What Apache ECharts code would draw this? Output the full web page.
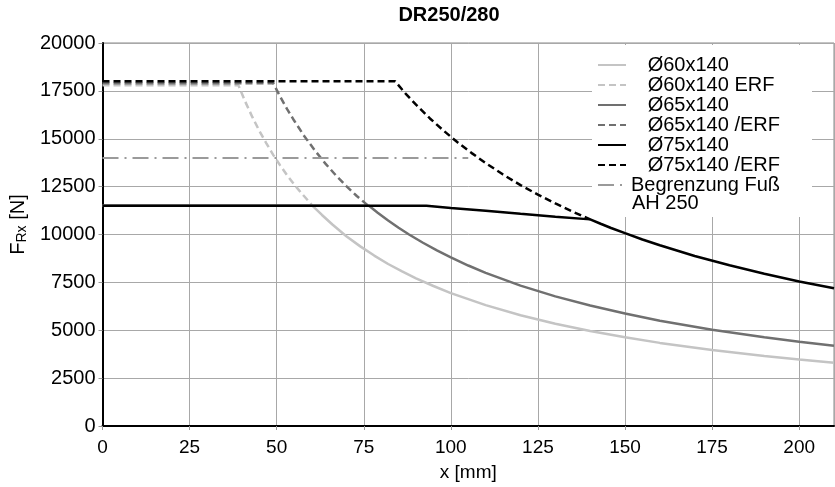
<!DOCTYPE html>
<html>
<head>
<meta charset="utf-8">
<script src="https://cdn.jsdelivr.net/npm/echarts@6/dist/echarts.min.js"></script>
<style>
  html, body { margin: 0; padding: 0; background: #fff; }
  #main { width: 835px; height: 487px; }
</style>
</head>
<body>
<div id="main"></div>
<script>
// values
const x60 = [0, 60.3, 63, 66, 70, 74, 78, 82, 86, 90, 95, 100, 110, 120, 130, 140, 150, 160, 175, 190, 200, 210];
const y60 = [11500, 11500, 11020, 10520, 9910, 9380, 8900, 8460, 8070, 7710, 7310, 6940, 6310, 5780, 5340, 4960, 4630, 4340, 3970, 3650, 3470, 3300];
const x60erf = [0, 39, 41, 43, 45, 47, 49, 51, 53, 55, 57, 60];
const y60erf = [17800, 17800, 16930, 16140, 15420, 14770, 14160, 13610, 13090, 12620, 12180, 11570];

const x65 = [0, 76.5, 79, 82, 85, 88, 92, 96, 100, 105, 110, 120, 130, 140, 150, 160, 175, 190, 200, 210];
const y65 = [11500, 11500, 11140, 10730, 10350, 10000, 9570, 9170, 8800, 8380, 8000, 7330, 6770, 6290, 5870, 5500, 5030, 4630, 4400, 4190];
const x65erf = [0, 49, 51, 53, 55, 58, 61, 64, 67, 70, 73, 76.5];
const y65erf = [17900, 17900, 17200, 16550, 15950, 15120, 14380, 13700, 13090, 12530, 12010, 11470];

const x75 = [0, 93, 100, 110, 120, 130, 140, 143, 146, 150, 155, 160, 170, 180, 190, 200, 210];
const y75 = [11500, 11500, 11390, 11240, 11080, 10930, 10790, 10560, 10340, 10070, 9740, 9440, 8880, 8390, 7950, 7550, 7190];
const x75erf = [0, 84, 87, 90, 94, 98, 102, 106, 110, 115, 120, 125, 130, 135, 140];
const y75erf = [18000, 18000, 17360, 16780, 16060, 15410, 14800, 14250, 13730, 13130, 12580, 12080, 11620, 11190, 10790];

const xLimit = [0, 105];
const yLimit = [14000, 14000];

const font = "'Liberation Sans', Arial, sans-serif";

function pairs(xs, ys) {
  return xs.map(function (x, i) { return [x, ys[i]]; });
}

function line(name, xs, ys, color, type, width) {
  return {
    name: name,
    type: 'line',
    data: pairs(xs, ys),
    symbol: 'none',
    animation: false,
    lineStyle: { color: color, width: width, type: type },
    itemStyle: { color: color }
  };
}

const chart = echarts.init(document.getElementById('main'));
chart.setOption({
  backgroundColor: '#fff',
  title: {
    text: 'DR250/280',
    left: 444, top: 0, textAlign: 'center',
    textStyle: { fontFamily: font, fontSize: 20, fontWeight: 'bold', color: '#000' }
  },
  grid: {
    left: 102, right: 1, top: 43, bottom: 57,
    show: true, borderColor: '#888', borderWidth: 1
  },
  legend: {
    orient: 'vertical',
    left: 592, top: 45,
    padding: [10, 5, 22, 5],
    itemGap: 0, itemWidth: 28, itemHeight: 2,
    backgroundColor: '#fff',
    selectedMode: false,
    itemStyle: { opacity: 0 },
    data: ['Ø60x140', 'Ø60x140 ERF', 'Ø65x140', 'Ø65x140 /ERF', 'Ø75x140', 'Ø75x140 /ERF', 'Begrenzung Fuß'],
    formatter: function (n) { return n.indexOf('Begrenzung') === 0 ? n : '   ' + n; },
    textStyle: { fontFamily: font, fontSize: 20, color: '#000', lineHeight: 19.5, width: 176 }
  },
  graphic: [{
    type: 'text', left: 632, top: 193, z: 100,
    style: { text: 'AH 250', font: '20px ' + font, fill: '#000' }
  }],
  xAxis: {
    type: 'value', min: 0, max: 210, interval: 25,
    name: 'x [mm]', nameLocation: 'middle', nameGap: 37,
    nameTextStyle: { fontFamily: font, fontSize: 19, color: '#000' },
    axisLine: { onZero: false, lineStyle: { color: '#000', width: 2 } },
    axisTick: { length: 4, lineStyle: { color: '#999' } },
    axisLabel: { showMaxLabel: false, margin: 12, fontFamily: font, fontSize: 19, color: '#000' },
    splitLine: { lineStyle: { color: '#a8a8a8', width: 1 } }
  },
  yAxis: {
    type: 'value', min: 0, max: 20000, interval: 2500,
    name: '{a|F}{b|Rx}{a| [N]}', nameLocation: 'middle', nameGap: 66, nameRotate: 90,
    nameTextStyle: {
      padding: [0, 0, 0, 20],
      rich: {
        a: { fontFamily: font, fontSize: 20, color: '#000' },
        b: { fontFamily: font, fontSize: 14, color: '#000', padding: [8, 0, 0, 0] }
      }
    },
    axisLine: { lineStyle: { color: '#000', width: 2 } },
    axisTick: { show: true, length: 4, lineStyle: { color: '#999' } },
    axisLabel: {
      margin: 7, fontFamily: font, fontSize: 20, color: '#000',
      formatter: function (v) { return String(v); }
    },
    splitLine: { lineStyle: { color: '#a8a8a8', width: 1 } }
  },
  series: [
    line('Ø60x140', x60, y60, '#c4c4c4', 'solid', 2.5),
    line('Ø60x140 ERF', x60erf, y60erf, '#c4c4c4', [7, 4], 2.5),
    line('Ø65x140', x65, y65, '#707070', 'solid', 2.5),
    line('Ø65x140 /ERF', x65erf, y65erf, '#707070', [7, 4], 2.5),
    line('Begrenzung Fuß', xLimit, yLimit, '#9a9a9a', [16, 6, 2, 6], 2),
    line('Ø75x140', x75, y75, '#000', 'solid', 2.5),
    line('Ø75x140 /ERF', x75erf, y75erf, '#000', [7, 4], 2.5)
  ]
});
</script>
</body>
</html>
